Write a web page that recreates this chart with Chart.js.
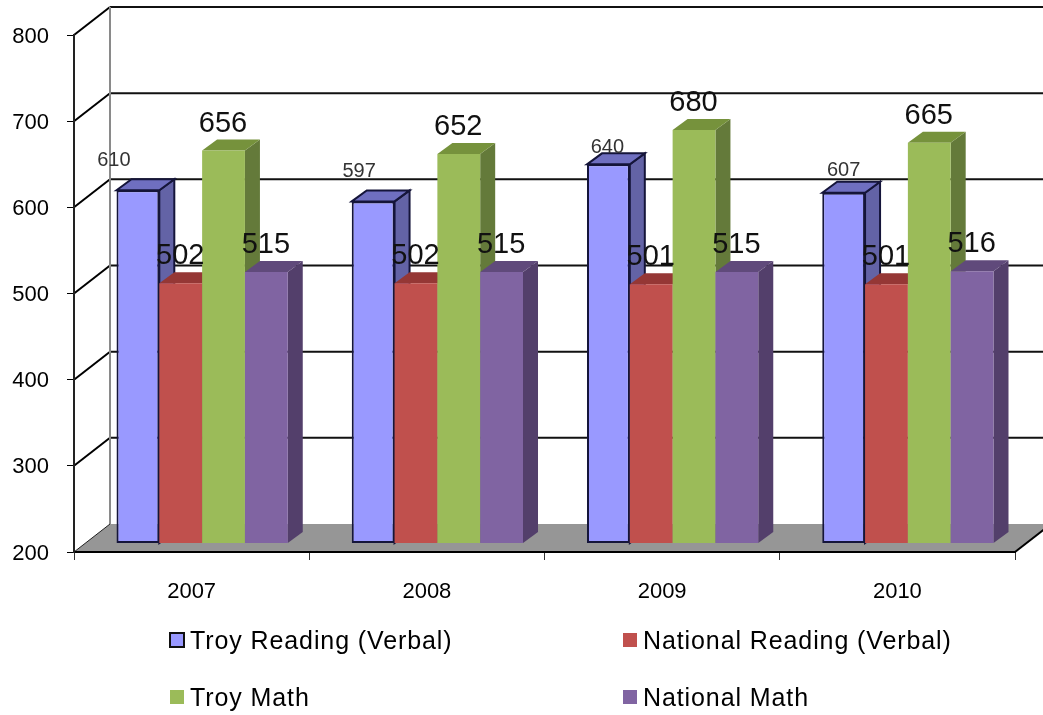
<!DOCTYPE html>
<html>
<head>
<meta charset="utf-8">
<style>
  html, body { margin: 0; padding: 0; background: #fff; }
  canvas { display: block; filter: blur(0.5px); }
</style>
<script src="https://cdn.jsdelivr.net/npm/chart.js@4/dist/chart.umd.min.js"></script>
</head>
<body>
<canvas id="scores_chart" width="1043" height="715"></canvas>
<script>
var years = ['2007', '2008', '2009', '2010'];
var troyReading = [610, 597, 640, 607];
var nationalReading = [502, 502, 501, 501];
var troyMath = [656, 652, 680, 665];
var nationalMath = [515, 515, 515, 516];
var seriesNames = ['Troy Reading (Verbal)', 'National Reading (Verbal)', 'Troy Math', 'National Math'];

// the small Troy Reading labels were moved by hand in the original
var readingLabelShift = [[-24, -30], [-14, -30], [-1, -17], [0, -22]];

var FONT = '"Liberation Sans", Arial, sans-serif';
var wallX = 36, wallY = -28;   // axis plane -> back wall
var barX = 10.5, barY = -8.5;  // axis plane -> front of the bars
var depthX = 15, depthY = -11; // depth of a bar

var faces = [
  { front: '#9999FF', top: '#6F6FC0', side: '#6363A6', line: '#15153A' },
  { front: '#C0504D', top: '#953735', side: '#8C3A38', line: null },
  { front: '#9BBB59', top: '#76923C', side: '#647A3A', line: null },
  { front: '#8064A2', top: '#604A7B', side: '#533F6B', line: null }
];

function poly(ctx, pts, fill, line) {
  ctx.beginPath();
  ctx.moveTo(pts[0][0], pts[0][1]);
  for (var i = 1; i < pts.length; i++) ctx.lineTo(pts[i][0], pts[i][1]);
  ctx.closePath();
  ctx.fillStyle = fill;
  ctx.fill();
  if (line) {
    ctx.strokeStyle = line;
    ctx.lineWidth = 2;
    ctx.stroke();
  }
}

function segment(ctx, x1, y1, x2, y2, color, width) {
  ctx.beginPath();
  ctx.moveTo(x1, y1);
  ctx.lineTo(x2, y2);
  ctx.strokeStyle = color;
  ctx.lineWidth = width;
  ctx.stroke();
}

var wallsPlugin = {
  id: 'walls',
  beforeDraw: function (chart) {
    var ctx = chart.ctx, a = chart.chartArea, y = chart.scales.y;
    var rightEdge = chart.width;
    ctx.save();
    poly(ctx, [[a.left, a.bottom], [a.left + wallX, a.bottom + wallY],
      [a.right + wallX, a.bottom + wallY], [a.right, a.bottom]], '#969696');
    y.ticks.forEach(function (t) {
      var py = y.getPixelForValue(t.value);
      if (t.value > 200) {
        segment(ctx, a.left, py, a.left + wallX, py + wallY, '#000', 2);
        segment(ctx, a.left + wallX, py + wallY, rightEdge, py + wallY, '#111', 2);
      }
    });
    segment(ctx, a.left + wallX, a.top + wallY, a.left + wallX, a.bottom + wallY, '#8a8a8a', 2);
    segment(ctx, a.left, a.bottom, a.left + wallX, a.bottom + wallY, '#222', 1);
    segment(ctx, a.right, a.bottom, a.right + wallX, a.bottom + wallY, '#000', 2);
    ctx.restore();
  }
};

// Chart.js paints the first dataset last, here the left bar has to go first
// so the next bar sits over its side face
var bars3dPlugin = {
  id: 'bars3d',
  beforeDatasetDraw: function () {
    return false;
  },
  beforeDatasetsDraw: function (chart) {
    var ctx = chart.ctx;
    chart.data.datasets.forEach(function (ds, i) {
      var meta = chart.getDatasetMeta(i), f = faces[i];
      ctx.save();
      ctx.translate(barX, barY);
      meta.data.forEach(function (bar) {
        var p = bar.getProps(['x', 'y', 'base', 'width'], true);
        var l = p.x - p.width / 2, r = p.x + p.width / 2;
        poly(ctx, [[r, p.y], [r + depthX, p.y + depthY], [r + depthX, p.base + depthY], [r, p.base]], f.side, f.line);
        poly(ctx, [[l, p.y], [l + depthX, p.y + depthY], [r + depthX, p.y + depthY], [r, p.y]], f.top, f.line);
      });
      meta.controller.draw();
      ctx.restore();
    });
  }
};

var labelsPlugin = {
  id: 'valueLabels',
  afterDatasetsDraw: function (chart) {
    var ctx = chart.ctx;
    ctx.save();
    ctx.textAlign = 'center';
    ctx.textBaseline = 'middle';
    chart.data.datasets.forEach(function (ds, i) {
      var meta = chart.getDatasetMeta(i);
      meta.data.forEach(function (bar, j) {
        var p = bar.getProps(['x', 'y'], true);
        if (i === 0) {
          ctx.font = '20px ' + FONT;
          ctx.fillStyle = '#333';
          ctx.fillText(ds.data[j], p.x + barX + readingLabelShift[j][0], p.y + barY + readingLabelShift[j][1]);
        } else {
          ctx.font = '29px ' + FONT;
          ctx.fillStyle = '#111';
          ctx.fillText(ds.data[j], p.x + barX - 0.5, p.y + barY - 27);
        }
      });
    });
    ctx.restore();
  }
};

var legendPlugin = {
  id: 'twoColumnLegend',
  afterDraw: function (chart) {
    var ctx = chart.ctx;
    var cols = [170, 623], rows = [640, 697];
    ctx.save();
    ctx.font = '25px ' + FONT;
    ctx.textBaseline = 'middle';
    ctx.textAlign = 'left';
    ctx.letterSpacing = '0.9px';
    seriesNames.forEach(function (name, i) {
      var x = cols[i % 2], y = rows[Math.floor(i / 2)];
      ctx.fillStyle = faces[i].front;
      ctx.fillRect(x, y - 7, 14, 14);
      if (faces[i].line) {
        ctx.strokeStyle = '#111';
        ctx.lineWidth = 2;
        ctx.strokeRect(x, y - 7, 14, 14);
      }
      ctx.fillStyle = '#000';
      ctx.fillText(name, x + 20, y + 2);
    });
    ctx.restore();
  }
};

var seriesValues = [troyReading, nationalReading, troyMath, nationalMath];
var datasets = seriesValues.map(function (values, i) {
  return {
    label: seriesNames[i],
    data: values,
    base: 200,
    backgroundColor: faces[i].front,
    borderColor: faces[i].line || faces[i].front,
    borderWidth: faces[i].line ? 2 : 0,
    borderSkipped: false,
    barPercentage: 1,
    categoryPercentage: 0.728
  };
});

var ctx = document.getElementById('scores_chart').getContext('2d');
var chartInstance = new Chart(ctx, {
  type: 'bar',
  data: { labels: years, datasets: datasets },
  plugins: [wallsPlugin, bars3dPlugin, labelsPlugin, legendPlugin],
  options: {
    responsive: false,
    animation: false,
    layout: { padding: { left: 0, top: 35, right: 28, bottom: 0 } },
    plugins: { legend: { display: false }, tooltip: { enabled: false } },
    scales: {
      x: {
        afterFit: function (scale) { scale.height = 163; },
        border: { color: '#000', width: 2 },
        grid: { drawOnChartArea: false, tickLength: 8, tickColor: '#333', tickWidth: 1 },
        ticks: { color: '#000', padding: 19, font: { family: FONT, size: 22 }, maxRotation: 0 }
      },
      y: {
        min: 200,
        max: 800,
        afterFit: function (scale) { scale.width = 74; },
        border: { color: '#222', width: 2 },
        grid: { drawOnChartArea: false, tickLength: 7, tickColor: '#000', tickWidth: 1 },
        ticks: { stepSize: 100, color: '#000', padding: 18, labelOffset: 1.5, font: { family: FONT, size: 22 } }
      }
    }
  }
});
</script>
</body>
</html>
